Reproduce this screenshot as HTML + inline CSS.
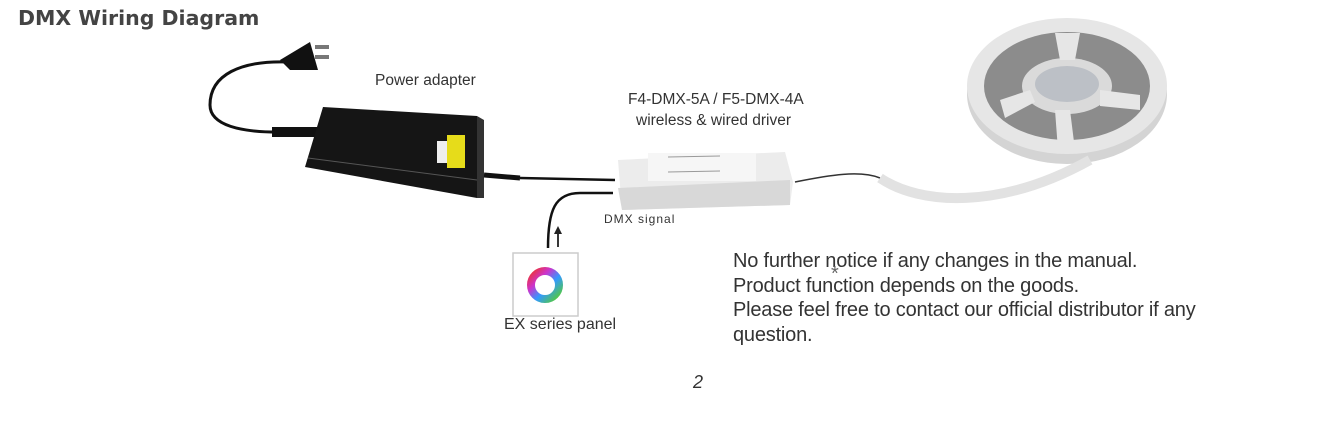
<!DOCTYPE html>
<html><head><meta charset="utf-8"><style>
body{margin:0;width:1340px;height:421px;background:#fff;position:relative;overflow:hidden;font-family:"Liberation Sans","DejaVu Sans",sans-serif}
.t{position:absolute;white-space:nowrap;color:#333}
</style></head><body>
<div class="t" style="left:18px;top:6px;font-size:20.5px;font-weight:bold;color:#444;font-family:'DejaVu Sans',sans-serif">DMX Wiring Diagram</div>
<svg width="1340" height="421" style="position:absolute;left:0;top:0">
<!-- plug cord -->
<path d="M290,62 C240,60 210,75 210,105 C210,125 240,133 285,132" stroke="#111" stroke-width="3" fill="none"/>
<path d="M280,60 L310,42 L318,70 L290,70 Z" fill="#111"/>
<rect x="315" y="45" width="14" height="4" fill="#777"/><rect x="315" y="55" width="14" height="4" fill="#777"/>
<rect x="272" y="127" width="50" height="10" fill="#111"/>
<!-- adapter -->
<path d="M323,107 L477,116 L477,198 L305,167 Z" fill="#151515"/>
<path d="M477,116 L484,120 L484,198 L477,198 Z" fill="#333"/>
<path d="M308,158 L477,180" stroke="#555" stroke-width="1"/>
<rect x="437" y="141" width="10" height="22" fill="#eee"/>
<rect x="447" y="135" width="18" height="33" fill="#e6dc1a"/>
<path d="M484,175 L520,178" stroke="#111" stroke-width="5"/>
<path d="M520,178 L615,180" stroke="#111" stroke-width="2.5"/>
<!-- DMX cord -->
<path d="M613,193 L580,193 C555,193 548,210 548,248" stroke="#111" stroke-width="2.5" fill="none"/>
<path d="M558,247 L558,232" stroke="#222" stroke-width="1.8"/><path d="M554,234 L558,226 L562,234 Z" fill="#222"/>
<!-- driver -->
<path d="M618,160 L785,152 L793,182 L790,205 L622,210 Z" fill="#ececec"/>
<path d="M618,188 L790,180 L790,205 L622,210 Z" fill="#d8d8d8"/>
<rect x="648" y="153" width="108" height="28" fill="#f6f6f6"/>
<line x1="668" y1="157" x2="720" y2="156" stroke="#999"/><line x1="668" y1="172" x2="720" y2="171" stroke="#999"/>
<!-- strip wire -->
<path d="M795,182 C830,175 860,170 880,178" stroke="#333" stroke-width="1.5" fill="none"/>
<!-- reel -->
<ellipse cx="1067" cy="94" rx="100" ry="70" fill="#d4d4d4"/>
<ellipse cx="1067" cy="86" rx="100" ry="68" fill="#e6e6e6"/>
<ellipse cx="1067" cy="86" rx="83" ry="54" fill="#8c8c8c"/>
<ellipse cx="1067" cy="86" rx="45" ry="28" fill="#dadada"/>
<ellipse cx="1067" cy="84" rx="32" ry="18" fill="#bcc0c6"/>
<path d="M1055,33 L1080,33 L1075,60 L1060,60Z M1000,100 L1030,90 L1035,102 L1005,118Z M1100,90 L1140,95 L1140,110 L1100,106Z M1055,110 L1070,110 L1075,150 L1058,150Z" fill="#e6e6e6"/>
<path d="M880,178 C920,205 1000,210 1090,160" stroke="#e2e2e2" stroke-width="10" fill="none"/>
<!-- panel -->
<rect x="513" y="253" width="65" height="63" fill="#fff" stroke="#ccc" stroke-width="1.5"/>
<circle cx="545" cy="285" r="14" fill="none" stroke="url(#g)" stroke-width="8"/>
<defs><linearGradient id="g" x1="0" y1="0" x2="1" y2="1"><stop offset="0" stop-color="#e33"/><stop offset=".3" stop-color="#c3c"/><stop offset=".6" stop-color="#39f"/><stop offset="1" stop-color="#5c3"/></linearGradient></defs>
</svg>
<div class="t" style="left:375px;top:72px;font-size:15.5px">Power adapter</div>
<div class="t" style="left:628px;top:91px;font-size:15.5px">F4-DMX-5A / F5-DMX-4A</div>
<div class="t" style="left:636px;top:112px;font-size:15.5px">wireless &amp; wired driver</div>
<div class="t" style="left:604px;top:212px;font-size:12px;letter-spacing:1px">DMX signal</div>
<div class="t" style="left:504px;top:316px;font-size:16px">EX series panel</div>
<div class="t" style="left:733px;top:249px;font-size:20px;letter-spacing:-0.2px;line-height:24.5px">No further notice if any changes in the manual.<br>Product function depends on the goods.<br>Please feel free to contact our official distributor if any<br>question.</div>
<div class="t" style="left:831px;top:263px;font-size:20px;color:#666">*</div>
<div class="t" style="left:693px;top:372px;font-size:18px;font-style:italic">2</div>
</body></html>
